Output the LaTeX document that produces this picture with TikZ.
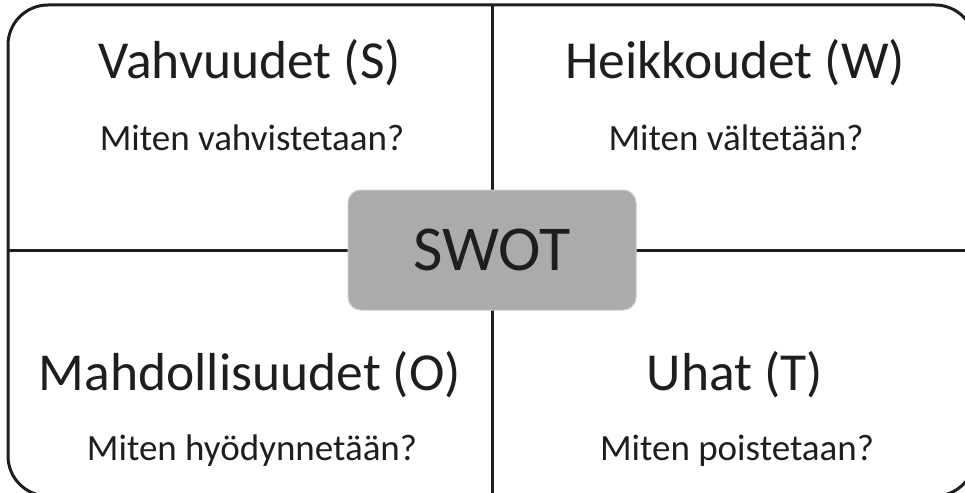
\documentclass[tikz,border=0pt]{standalone}
\usepackage{fontspec}
\setmainfont{Carlito}
\definecolor{ink}{HTML}{1E1E1E}
\definecolor{boxgray}{HTML}{ABABAB}
\definecolor{boxedge}{HTML}{C8C8C8}
\tikzset{
  frame/.style={draw=ink, line width=3pt, rounded corners=40pt},
  divider/.style={draw=ink, line width=3pt},
  heading/.style={anchor=base, text=ink, inner sep=0pt, font=\fontsize{53.5}{60}\selectfont},
  question/.style={anchor=base, text=ink, inner sep=0pt, font=\fontsize{37}{44}\selectfont},
  centerbox/.style={fill=boxgray, draw=boxedge, line width=1pt, rounded corners=13pt,
    minimum width=288pt, minimum height=120pt, text=ink, font=\fontsize{64}{72}\selectfont}
}
\begin{document}
\begin{tikzpicture}[x=1pt,y=-1pt]
\useasboundingbox (0,0) rectangle (965,492);
\clip (0,0) rectangle (965,492);
% outer frame, running past the right and bottom edges
\draw[frame] (8,5) rectangle (975,496);
% quadrant dividers
\coordinate (top) at (492,5);
\coordinate (bottom) at (492,496);
\coordinate (left) at (8,250);
\coordinate (right) at (975,250);
\draw[divider] (top) -- (bottom);
\draw[divider] (left) -- (right);
% centre label
\node[centerbox] (swot) at (492,250) {SWOT};
% quadrant texts
\node[heading]  (s)  at (250,79)  {Vahvuudet (S)};
\node[question] (sq) at (252,150) {Miten vahvistetaan?};
\node[heading]  (w)  at (735,79)  {Heikkoudet (W)};
\node[question] (wq) at (736,150) {Miten vältetään?};
\node[heading]  (o)  at (250,390) {Mahdollisuudet (O)};
\node[question] (oq) at (252,460) {Miten hyödynnetään?};
\node[heading]  (t)  at (735,390) {Uhat (T)};
\node[question] (tq) at (737,460) {Miten poistetaan?};
\end{tikzpicture}
\end{document}
